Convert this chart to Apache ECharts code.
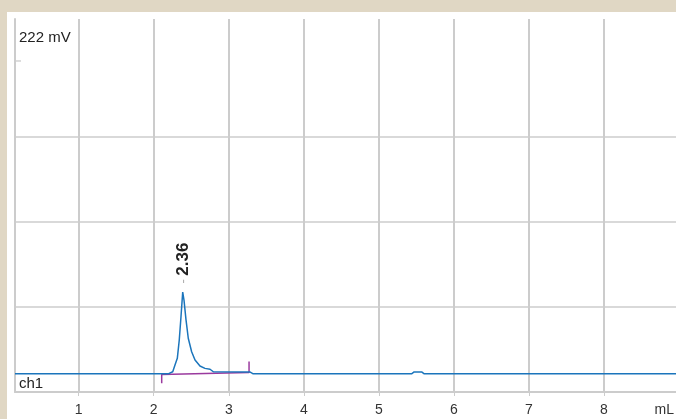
<!DOCTYPE html>
<html>
<head>
<meta charset="utf-8">
<script src="https://cdn.jsdelivr.net/npm/echarts@6/dist/echarts.min.js"></script>
<style>
html,body{margin:0;padding:0;width:676px;height:419px;background:#e0d7c4;overflow:hidden;}
#c{position:absolute;left:7px;top:12px;width:700px;height:407px;background:#ffffff;}
</style>
</head>
<body>
<div id="c"></div>
<script>
// ---- data ----
const xMin = 0.151, xMax = 9.093;
const yMax = 219.4;
const lastTick = 8;
const signalX = [0.151, 2.20, 2.253, 2.283, 2.314, 2.34, 2.363, 2.386, 2.403, 2.43, 2.46, 2.505, 2.55, 2.616, 2.683, 2.75, 2.794, 3.28, 3.32, 5.44, 5.47, 5.57, 5.60, 9.093];
const signalY = [10.8, 10.8, 11.9, 15.9, 19.8, 30.6, 44.3, 58.8, 54.1, 42.4, 31.6, 23.7, 18.8, 15.3, 13.9, 13.4, 11.9, 11.8, 10.8, 10.8, 11.8, 11.8, 10.8, 10.8];
const baselineX = [2.106, 2.106, 3.27, 3.27];
const baselineY = [5.1, 10.3, 11.4, 17.9];
const peakLabel = '2.36';
const peakX = 2.386, peakY = 58.8;
const yUnitLabel = '222 mV';
const channelLabel = 'ch1';
const xUnit = 'mL';

const signal = signalX.map((x, i) => [x, signalY[i]]);
const baseline = baselineX.map((x, i) => [x, baselineY[i]]);

const chart = echarts.init(document.getElementById('c'));
const grid = '#cccccc';
const clear = 'rgba(0,0,0,0)';
const font = 'Liberation Sans, Arial, sans-serif';
chart.setOption({
  animation: false,
  grid: {left: 8, top: 7, right: 21, bottom: 27, containLabel: false},
  xAxis: {
    type: 'value', min: xMin, max: xMax, minInterval: 1, maxInterval: 1,
    axisLine: {show: true, lineStyle: {color: grid, width: 2}},
    axisTick: {show: true, length: 4, lineStyle: {color: grid, width: 1}},
    axisLabel: {
      fontSize: 14, color: '#333', margin: 11, fontFamily: font,
      showMinLabel: false, showMaxLabel: false,
      formatter: v => (v <= lastTick ? String(v) : '')
    },
    splitLine: {show: true, lineStyle: {color: grid, width: 2}}
  },
  yAxis: {
    type: 'value', min: 0, max: yMax, interval: 50,
    axisLine: {show: true, lineStyle: {color: grid, width: 2}},
    axisTick: {show: false},
    axisLabel: {show: false},
    splitLine: {show: true, showMinLine: false, showMaxLine: false, lineStyle: {color: [grid, grid, grid, clear, clear, clear], width: 1.5}}
  },
  series: [
    {
      type: 'line', data: baseline, symbol: 'none', z: 3,
      lineStyle: {color: '#9a3a9e', width: 1.5}
    },
    {
      type: 'line', data: signal, symbol: 'none', z: 4,
      lineStyle: {color: '#1b75bc', width: 1.5},
      markPoint: {
        symbol: 'circle', symbolSize: 0,
        data: [{coord: [peakX, peakY], value: peakLabel}],
        label: {
          show: true, rotate: 90, position: 'inside', offset: [29, 1],
          align: 'center', verticalAlign: 'middle',
          formatter: p => '{d|-} {b|' + p.value + '}',
          rich: {
            d: {color: '#aaaaaa', fontSize: 13, fontFamily: font},
            b: {color: '#222', fontSize: 17, fontWeight: 'bold', fontFamily: font}
          }
        }
      }
    }
  ]
});

const p = chart.convertToPixel({gridIndex: 0}, [xMin, 194.7]);
const t8 = chart.convertToPixel({gridIndex: 0}, [lastTick, 0]);
chart.setOption({
  graphic: [
    {type: 'text', left: 12, top: 18, style: {text: yUnitLabel, fontSize: 15, fill: '#222', fontFamily: font}},
    {type: 'text', left: 12, top: 364, style: {text: channelLabel, fontSize: 15, fill: '#222', fontFamily: font}},
    {type: 'text', x: t8[0] + 70, y: t8[1] + 18, style: {text: xUnit, fontSize: 14, fill: '#333', fontFamily: font, textAlign: 'right', textVerticalAlign: 'middle'}},
    {type: 'line', shape: {x1: p[0], y1: p[1], x2: p[0] + 6, y2: p[1]}, style: {stroke: '#bbbbbb', lineWidth: 1}}
  ]
});
</script>
</body>
</html>
